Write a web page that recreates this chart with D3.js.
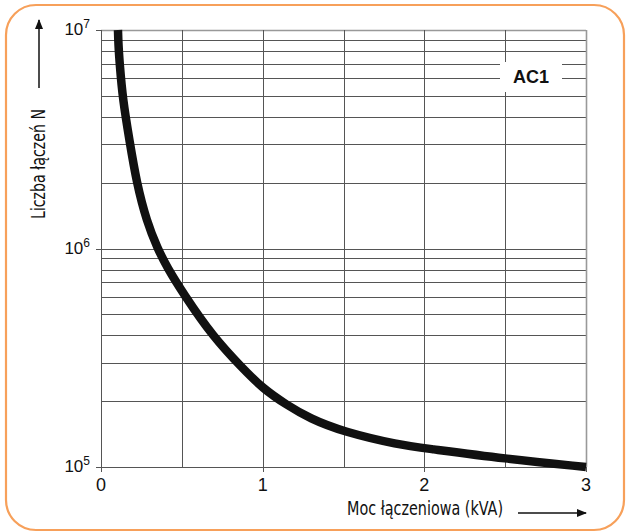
<!DOCTYPE html>
<html><head><meta charset="utf-8">
<script src="https://cdn.jsdelivr.net/npm/d3@7"></script>
<style>body{margin:0;background:#fff}svg{display:block}</style>
</head><body>
<svg id="c" width="627" height="532"></svg>
<script>
const xTicks = [0, 1, 2, 3];
const yTicks = [1e5, 1e6, 1e7];
const yTickExp = ["5", "6", "7"];
const curveX = [0.105, 0.108, 0.115, 0.135, 0.175, 0.22, 0.284, 0.35, 0.408, 0.507, 0.693, 0.878, 1.0, 1.15, 1.29, 1.497, 1.85, 2.0, 2.5, 3.0];
const curveN = [1e7, 8.5e6, 7.08e6, 4.79e6, 3.16e6, 2.0e6, 1.32e6, 1.0e6, 8.22e5, 6.25e5, 3.94e5, 2.82e5, 2.29e5, 1.92e5, 1.67e5, 1.45e5, 1.26e5, 1.22e5, 1.09e5, 1.0e5];
const yTitle = "Liczba łączeń N";
const xTitle = "Moc łączeniowa (kVA)";
const seriesLabel = "AC1";

const svg = d3.select("#c");
const x = d3.scaleLinear().domain([0, 3]).range([101, 586]);
const y = d3.scaleLog().domain([1e5, 1e7]).range([467, 30]);

// frame
svg.append("rect").attr("x", 6).attr("y", 5).attr("width", 618).attr("height", 525)
  .attr("rx", 30).attr("ry", 30).attr("fill", "#fff").attr("stroke", "#f7a05a").attr("stroke-width", 2.2);

const g = svg.append("g");
const hLines = [];
for (let d = 5; d < 7; d++) for (let k = 1; k <= 9; k++) hLines.push(k * Math.pow(10, d));
hLines.push(1e7);
g.selectAll("line.h").data(hLines).join("line")
  .attr("x1", x(0)).attr("x2", x(3)).attr("y1", d => Math.round(y(d)) + 0.5).attr("y2", d => Math.round(y(d)) + 0.5)
  .attr("stroke", d => d === 1e7 ? "#999" : "#555").attr("stroke-width", d => d === 1e7 ? 1.6 : 1);
const vLines = d3.range(0, 3.01, 0.5);
g.selectAll("line.v").data(vLines).join("line")
  .attr("y1", y(1e7)).attr("y2", y(1e5)).attr("x1", d => Math.round(x(d)) + 0.5).attr("x2", d => Math.round(x(d)) + 0.5)
  .attr("stroke", d => d === 3 ? "#999" : "#555").attr("stroke-width", d => d === 3 ? 1.6 : 1);

// ticks
g.selectAll("line.xt").data(xTicks).join("line")
  .attr("x1", d => Math.round(x(d)) + 0.5).attr("x2", d => Math.round(x(d)) + 0.5)
  .attr("y1", y(1e5)).attr("y2", y(1e5) + 5).attr("stroke", "#555");
g.selectAll("line.yt").data(yTicks).join("line")
  .attr("x1", x(0) - 5).attr("x2", x(0)).attr("y1", d => Math.round(y(d)) + 0.5).attr("y2", d => Math.round(y(d)) + 0.5).attr("stroke", "#555");

const sf = "'Liberation Sans', Arial, sans-serif";
g.selectAll("text.xl").data(xTicks).join("text")
  .attr("x", d => x(d)).attr("y", y(1e5) + 24).attr("text-anchor", "middle")
  .attr("font-family", sf).attr("font-size", 18).attr("fill", "#111").text(d => d);
const yl = g.selectAll("text.yl").data(yTicks).join("text")
  .attr("x", x(0) - 11).attr("y", d => y(d) + 5).attr("text-anchor", "end")
  .attr("font-family", sf).attr("font-size", 17).attr("fill", "#111");
yl.append("tspan").text("10");
yl.append("tspan").attr("dy", -7).attr("font-size", 12).text((d, i) => yTickExp[i]);

// AC1 label
g.append("rect").attr("x", 500).attr("y", 62).attr("width", 62).attr("height", 30).attr("fill", "#fff");
g.append("text").attr("x", 531).attr("y", 83).attr("text-anchor", "middle")
  .attr("font-family", sf).attr("font-weight", "bold").attr("font-size", 18).attr("fill", "#111").text(seriesLabel);

// curve
const pts = curveX.map((v, i) => [v, curveN[i]]);
g.append("path").datum(pts)
  .attr("d", d3.line().x(d => x(d[0])).y(d => y(d[1])).curve(d3.curveBasis))
  .attr("fill", "none").attr("stroke", "#111").attr("stroke-width", 8.5).attr("stroke-linecap", "butt");

// axis titles
const cf = "'Liberation Sans Narrow', 'DejaVu Sans Condensed', 'Roboto Condensed', sans-serif";
svg.append("text").attr("transform", "translate(45,164) rotate(-90)").attr("text-anchor", "middle")
  .attr("font-family", cf).attr("font-size", 19).attr("fill", "#111")
  .attr("textLength", 110).attr("lengthAdjust", "spacingAndGlyphs").text(yTitle);
svg.append("text").attr("x", 425).attr("y", 515).attr("text-anchor", "middle")
  .attr("font-family", cf).attr("font-size", 19).attr("fill", "#111")
  .attr("textLength", 156).attr("lengthAdjust", "spacingAndGlyphs").text(xTitle);

// arrows
const defs = svg.append("defs");
defs.append("marker").attr("id", "ah").attr("viewBox", "0 0 10 10").attr("refX", 9).attr("refY", 5)
  .attr("markerWidth", 10).attr("markerHeight", 10).attr("markerUnits", "userSpaceOnUse").attr("orient", "auto")
  .append("path").attr("d", "M0,1 L10,5 L0,9 Z").attr("fill", "#111");
svg.append("line").attr("x1", 39).attr("x2", 39).attr("y1", 88).attr("y2", 20).attr("stroke", "#111").attr("stroke-width", 1.5).attr("marker-end", "url(#ah)");
svg.append("line").attr("x1", 518).attr("x2", 586).attr("y1", 513).attr("y2", 513).attr("stroke", "#111").attr("stroke-width", 1.5).attr("marker-end", "url(#ah)");
</script>
</body></html>
